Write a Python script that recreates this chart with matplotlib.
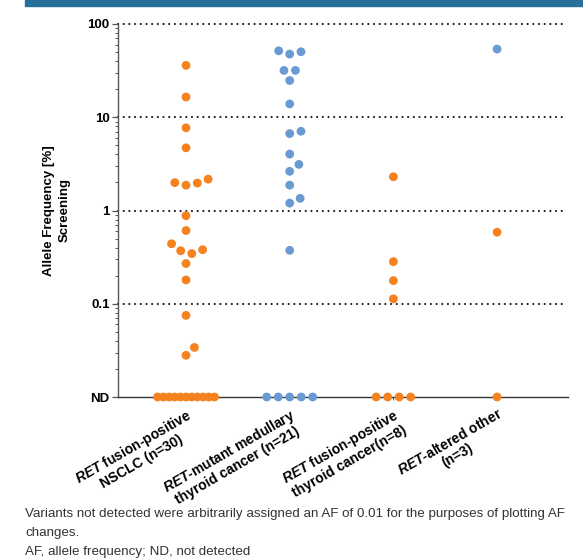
import numpy as np
import matplotlib
matplotlib.use("Agg")
import matplotlib.pyplot as plt
from matplotlib.patches import Rectangle

# ---- data: allele frequency (%) at screening; ND (not detected) plotted as 0.01 ----
categories = [
    "$\\mathbfit{RET}$ fusion-positive\nNSCLC (n=30)",
    "$\\mathbfit{RET}$-mutant medullary\nthyroid cancer (n=21)",
    "$\\mathbfit{RET}$ fusion-positive\nthyroid cancer(n=8)",
    "$\\mathbfit{RET}$-altered other\n(n=3)",
]

nsclc_af = [36, 16.5, 7.7, 4.7, 2.17, 1.99, 1.97, 1.87, 0.88, 0.61, 0.44, 0.38,
            0.37, 0.345, 0.27, 0.18, 0.075, 0.034, 0.028,
            0.01, 0.01, 0.01, 0.01, 0.01, 0.01, 0.01, 0.01, 0.01, 0.01, 0.01]
nsclc_type = ["fusion"] * 30

mtc_af = [51.6, 50.4, 47.6, 31.8, 31.8, 24.8, 13.9, 7.07, 6.68, 4.03, 3.12,
          2.63, 1.87, 1.35, 1.2, 0.374,
          0.01, 0.01, 0.01, 0.01, 0.01]
mtc_type = ["mutation"] * 21

thyroid_fusion_af = [2.3, 0.283, 0.177, 0.113, 0.01, 0.01, 0.01, 0.01]
thyroid_fusion_type = ["fusion"] * 8

other_af = [53.8, 0.585, 0.01]
other_type = ["mutation", "fusion", "fusion"]

groups_af = [nsclc_af, mtc_af, thyroid_fusion_af, other_af]
groups_type = [nsclc_type, mtc_type, thyroid_fusion_type, other_type]

y_ticks = [0.01, 0.1, 1, 10, 100]
y_ticklabels = ["ND", "0.1", "1", "10", "100"]
caption = ("Variants not detected were arbitrarily assigned an AF of 0.01 for the purposes of plotting AF\n"
           "changes.\n"
           "AF, allele frequency; ND, not detected")

# ---- style ----
type_colors = {"fusion": "#F5811F", "mutation": "#6A9AD3"}
plt.rcParams["font.family"] = ["Liberation Sans", "DejaVu Sans"]
plt.rcParams["mathtext.fontset"] = "custom"
plt.rcParams["mathtext.rm"] = "Liberation Sans:bold"
plt.rcParams["mathtext.bfit"] = "Liberation Sans:bold:italic"

W, H, DPI = 583, 560, 100
fig = plt.figure(figsize=(W / DPI, H / DPI), dpi=DPI)

ax_left, ax_right, ax_top, ax_bottom = 118, 568, 24, 397
ax = fig.add_axes([ax_left / W, 1 - ax_bottom / H,
                   (ax_right - ax_left) / W, (ax_bottom - ax_top) / H])

xlim = (-0.656, 3.684)
ylim = (0.01, 100)
ax.set_yscale("log")
ax.set_xlim(*xlim)
ax.set_ylim(*ylim)

px_per_x = (ax_right - ax_left) / (xlim[1] - xlim[0])
px_per_decade = (ax_bottom - ax_top) / np.log10(ylim[1] / ylim[0])


def swarm_offsets(values, spacing=11.5, max_half=28.5):
    """Beeswarm x offsets (pixels): tied values form centred rows, the rest
    are packed greedily next to already placed points."""
    vals = np.asarray(values, dtype=float)
    ys = np.log10(vals) * px_per_decade
    offs = np.full(len(vals), np.nan)
    placed = []
    uniq, counts = np.unique(vals, return_counts=True)
    for u, c in zip(uniq, counts):
        if c > 1:
            idx = np.where(vals == u)[0]
            step = min(spacing, 2 * max_half / (c - 1))
            for k, i in enumerate(idx):
                offs[i] = (k - (c - 1) / 2) * step
                placed.append((offs[i], ys[i]))
    rest = [i for i in np.argsort(vals, kind="stable") if np.isnan(offs[i])]
    for i in rest:
        y = ys[i]
        cands = [0.0]
        for px, py in placed:
            dy = abs(py - y)
            if dy < spacing:
                dx = np.sqrt(spacing ** 2 - dy ** 2)
                cands += [px + dx, px - dx]
        cands = sorted(cands, key=lambda c: (abs(c), -c))
        for c in cands:
            if all((c - px) ** 2 + (y - py) ** 2 >= spacing ** 2 - 1e-6
                   for px, py in placed):
                offs[i] = c
                break
        placed.append((offs[i], y))
    return offs


for gi, (af, types) in enumerate(zip(groups_af, groups_type)):
    offs = swarm_offsets(af)
    xs = gi + offs / px_per_x
    cols = [type_colors[t] for t in types]
    ax.scatter(xs, af, s=40, c=cols, linewidths=0, zorder=3, clip_on=False)

# dotted reference lines at each decade above ND
for yv in y_ticks[1:]:
    ax.plot([xlim[0], xlim[1] - 0.03], [yv, yv], color="#222222", lw=1.6,
            linestyle=(0, (0.01, 2.55)), dash_capstyle="round", zorder=1,
            clip_on=False)

for side in ("top", "right"):
    ax.spines[side].set_visible(False)
ax.spines["left"].set_color("#555555")
ax.spines["left"].set_linewidth(1.0)
ax.spines["bottom"].set_color("#333333")
ax.spines["bottom"].set_linewidth(1.0)

ax.set_yticks(y_ticks)
ax.set_yticklabels(y_ticklabels, fontsize=9.5, fontweight="bold")
ax.tick_params(axis="y", which="major", length=4, width=0.9, color="#555555", pad=2)
ax.tick_params(axis="y", which="minor", length=2.5, width=0.7, color="#555555")

ax.set_xticks(range(len(categories)))
ax.set_xticklabels(categories, fontsize=10, fontweight="bold", rotation=30,
                   ha="right", va="top", rotation_mode="anchor",
                   multialignment="center", linespacing=1.1)
ax.tick_params(axis="x", length=2.5, width=0.7, color="#555555", pad=4)

ax.set_ylabel("Allele Frequency [%]\nScreening", fontsize=9.5, fontweight="bold",
              labelpad=12, linespacing=1.4)

# header band
fig.patches.append(Rectangle((24.7 / W, 1 - 6 / H), 1, 6 / H,
                             transform=fig.transFigure, color="#26709A",
                             zorder=0))

fig.text(25 / W, 1 - 508 / H, caption, fontsize=9.6, color="#333333",
         va="top", ha="left", linespacing=1.8)

fig.savefig("out.png", dpi=DPI)
